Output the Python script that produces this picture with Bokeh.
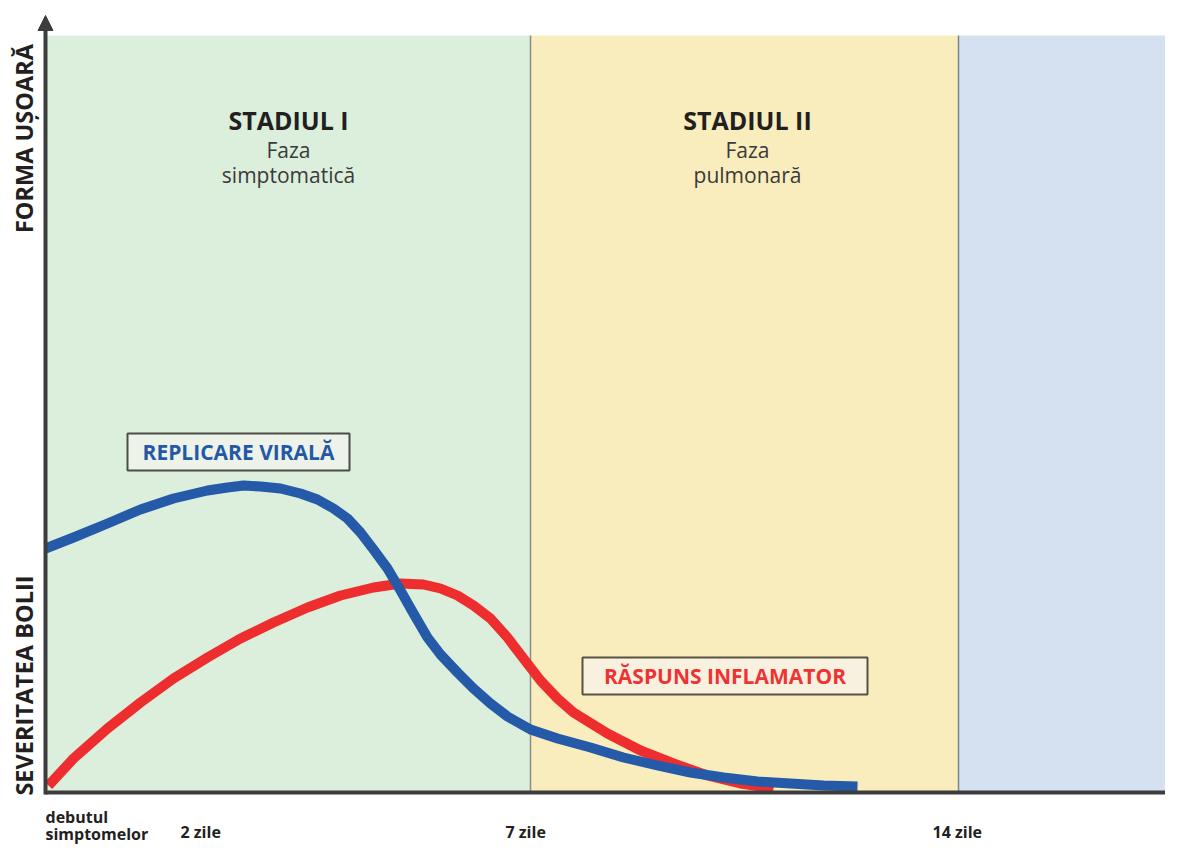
import math
from bokeh.plotting import figure
from bokeh.models import Arrow, NormalHead, Range1d
from bokeh.core.properties import value
from bokeh.embed import file_html
from bokeh.resources import INLINE

# ---- data (abstract time / severity units) ----
stage_left = [0.0, 48.5, 91.3]
stage_right = [48.5, 91.3, 112.5]
stage_top = [75.7, 75.7, 75.7]
stage_colors = ["#dcefdc", "#f9edbe", "#d5e1f1"]
divider_x = [48.5, 91.3]
divider_colors = ["#8c8c8c", "#7c838c"]

stage_title_x = [24.3, 70.2]
stage_titles = ["STADIUL I", "STADIUL II"]
phase_word = ["Faza", "Faza"]
phase_names = ["simptomatică", "pulmonară"]

blue_x = [0, 2.8, 6.2, 9.5, 12.8, 16.2, 18.2, 19.8, 21.5, 23.5, 25.5, 27.2, 28.8, 30.2,
          31.5, 32.8, 34.2, 35.5, 36.8, 38.2, 39.5, 41.2, 42.8, 44.5, 46.2, 48.5, 51.2,
          54.5, 57.8, 61.2, 64.5, 67.8, 71.2, 74.5, 77.8, 81.2]
blue_y = [24.4, 25.5, 26.9, 28.3, 29.4, 30.2, 30.5, 30.7, 30.6, 30.4, 29.9, 29.3, 28.4, 27.4,
          26.0, 24.3, 22.4, 20.2, 17.9, 15.5, 13.8, 12.0, 10.4, 8.9, 7.6, 6.3, 5.4,
          4.5, 3.5, 2.7, 2.0, 1.5, 1.1, 0.9, 0.7, 0.6]

red_x = [0.3, 2.8, 6.2, 9.5, 12.8, 16.2, 19.5, 22.8, 26.2, 29.5, 32.8, 35.5, 37.8, 39.5,
         41.2, 42.8, 44.5, 46.2, 47.8, 49.5, 51.2, 52.8, 56.2, 59.5, 62.8, 66.2, 69.5, 72.8]
red_y = [0.7, 3.4, 6.4, 9.0, 11.4, 13.5, 15.4, 17.0, 18.5, 19.7, 20.5, 20.9, 20.8, 20.4,
         19.7, 18.7, 17.4, 15.5, 13.4, 11.2, 9.4, 8.0, 5.9, 4.2, 2.9, 1.7, 0.9, 0.4]

label_text = ["REPLICARE VIRALĂ", "RĂSPUNS INFLAMATOR"]
label_left = [8.2, 53.7]
label_right = [30.4, 82.2]
label_bottom = [32.2, 9.8]
label_top = [35.9, 13.5]
label_fill = ["#eef3ea", "#f9f1e0"]
label_line = ["#4a4d48", "#57523f"]
label_color = ["#2458a6", "#ee3333"]

x_tick_pos = [0.0, 13.5, 46.0, 88.7]
x_tick_labels = ["debutul\nsimptomelor", "2 zile", "7 zile", "14 zile"]
y_tick_pos = [11.0, 65.7]
y_tick_labels = ["SEVERITATEA  BOLII", "FORMA  UȘOARĂ"]

AX = "#3d3d3d"
INK = "#231f20"
FONT = value("Open Sans")

p = figure(width=1165, height=848, x_range=Range1d(-4.5, 112.0), y_range=Range1d(-5.6, 79.2),
           output_backend="svg", toolbar_location=None,
           x_axis_location=None, y_axis_location=None,
           min_border=0, min_border_left=0, min_border_right=0,
           min_border_top=0, min_border_bottom=0)
p.outline_line_color = None
p.grid.visible = False
p.background_fill_color = "white"
p.border_fill_color = "white"

# stage backgrounds
p.quad(left=stage_left, right=stage_right, bottom=[0, 0, 0], top=stage_top,
       fill_color=stage_colors, line_color=None)
p.segment(x0=divider_x, y0=[0, 0], x1=divider_x, y1=stage_top[:2],
          line_color=divider_colors, line_width=1.5)

# stage titles
p.text(x=stage_title_x, y=[67.3, 67.3], text=stage_titles, text_align="center",
       text_baseline="middle", text_font=FONT, text_font_style="bold",
       text_font_size="25px", text_color=INK)
p.text(x=stage_title_x, y=[64.25, 64.25], text=phase_word, text_align="center",
       text_baseline="middle", text_font=FONT,
       text_font_size="21px", text_color="#3a3a3a")
p.text(x=stage_title_x, y=[61.75, 61.75], text=phase_names, text_align="center",
       text_baseline="middle", text_font=FONT,
       text_font_size="21px", text_color="#3a3a3a")

# curves
p.line(red_x, red_y, line_color="#ee2e2e", line_width=10, line_join="round", line_cap="butt")
p.line(blue_x, blue_y, line_color="#255aa8", line_width=10, line_join="round", line_cap="butt")

# label boxes
p.quad(left=label_left, right=label_right, bottom=label_bottom, top=label_top,
       fill_color=label_fill, line_color=label_line, line_width=2)
p.text(x=[(a + b) / 2 for a, b in zip(label_left, label_right)],
       y=[(a + b) / 2 for a, b in zip(label_bottom, label_top)],
       text=label_text, text_align="center", text_baseline="middle",
       text_font=FONT, text_font_style="bold", text_font_size="21px",
       text_color=label_color)

# axis tick labels (below the time axis)
xl_x, xl_y, xl_t = [], [], []
for pos, lab in zip(x_tick_pos, x_tick_labels):
    lines = lab.split("\n")
    if len(lines) == 1:
        rows = [-3.9]
    else:
        rows = [-2.4 - 1.75 * i for i in range(len(lines))]
    for line, yy in zip(lines, rows):
        xl_x.append(pos)
        xl_y.append(yy)
        xl_t.append(line)
p.text(x=xl_x, y=xl_y, text=xl_t, text_align="left", text_baseline="middle",
       text_font=FONT, text_font_style="bold", text_font_size="16px", text_color=INK)

# severity axis labels (rotated)
p.text(x=[-2.15] * len(y_tick_pos), y=y_tick_pos, text=y_tick_labels, angle=math.pi / 2,
       text_align="center", text_baseline="middle", text_font=FONT,
       text_font_style="bold", text_font_size="23.5px", text_color=INK)

# axes lines with arrows
p.add_layout(Arrow(end=None, x_start=0, y_start=0, x_end=112.0, y_end=0,
                   line_color=AX, line_width=4))
p.add_layout(Arrow(end=NormalHead(size=15, fill_color=AX, line_color=AX, line_width=1),
                   x_start=0, y_start=-0.2, x_end=0, y_end=77.7,
                   line_color=AX, line_width=4))

open("out.html", "w").write(file_html(p, INLINE))
